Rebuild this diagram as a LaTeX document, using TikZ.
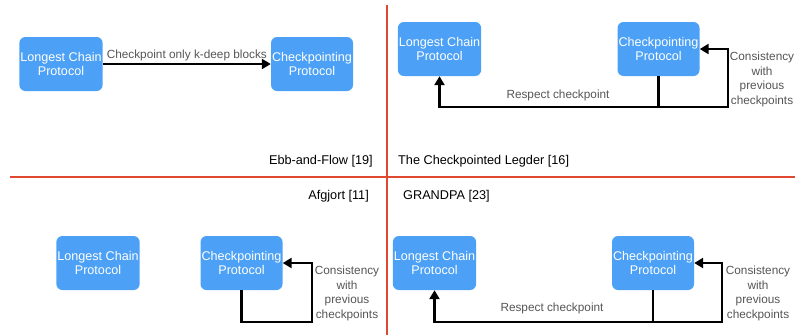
\documentclass[tikz,border=0pt]{standalone}
\usepackage{fontspec}
\setmainfont{Liberation Sans}
\usetikzlibrary{arrows.meta,calc}
\definecolor{boxblue}{RGB}{76,161,246}
\definecolor{redline}{RGB}{224,72,50}
\definecolor{lblgrey}{RGB}{85,85,85}
\tikzset{
  proto/.style={draw=none,fill=boxblue,rounded corners=6pt,minimum width=82pt,minimum height=54pt,
    text=white,align=center,font=\fontsize{12.6}{14.5}\selectfont,inner sep=1pt},
  arr/.style={line width=2.7pt,-{Triangle[length=9pt,width=10pt]},black},
  plain/.style={line width=2.7pt,black},
  lbl/.style={text=lblgrey,align=center,font=\fontsize{11.8}{14.5}\selectfont,inner sep=1pt},
  captext/.style={text=black,font=\fontsize{12.7}{15}\selectfont,inner sep=0pt},
  sepline/.style={draw=redline,line width=2pt}
}
\begin{document}
\begin{tikzpicture}[x=1pt,y=-1pt]
\useasboundingbox (0,0) rectangle (795,335);
% separators
\draw[sepline] (10,177) -- (795,177);
\draw[sepline] (387,5) -- (387,335);
% top-left
\node[proto] (l1) at (61,64) {Longest Chain\\Protocol};
\node[proto] (c1) at (312,64) {Checkpointing\\Protocol};
\draw[arr] (l1.east) -- node[lbl,above=1pt] {Checkpoint only k-deep blocks} (c1.west);
\node[captext,anchor=east] (t1) at (373,161) {Ebb-and-Flow [19]};
% top-right
\node[proto] (l2) at (439.5,49) {Longest Chain\\Protocol};
\node[proto] (c2) at (658.5,49) {Checkpointing\\Protocol};
\coordinate (j2) at (658.5,107);
\draw[plain] (c2.south) -- (j2);
\draw[arr] (j2) -| (l2.south);
\draw[arr] (j2) -- (728,107) |- (c2.east);
\node[lbl] (r2) at (558,95) {Respect checkpoint};
\node[lbl] (k2) at (762,79.5) {Consistency\\with\\previous\\checkpoints};
\node[captext,anchor=west] (t2) at (398,161) {The Checkpointed Legder [16]};
% bottom-left
\node[proto] (l3) at (98,263) {Longest Chain\\Protocol};
\node[proto] (c3) at (241.5,263) {Checkpointing\\Protocol};
\draw[arr] (c3.south) |- (312,322) |- (c3.east);
\node[lbl] (k3) at (347,293.5) {Consistency\\with\\previous\\checkpoints};
\node[captext,anchor=east] (t3) at (369,196) {Afgjort [11]};
% bottom-right
\node[proto] (l4) at (434.5,263) {Longest Chain\\Protocol};
\node[proto] (c4) at (653,263) {Checkpointing\\Protocol};
\coordinate (j4) at (653,322);
\draw[plain] (c4.south) -- (j4);
\draw[arr] (j4) -| (l4.south);
\draw[arr] (j4) -- (722,322) |- (c4.east);
\node[lbl] (r4) at (552,308) {Respect checkpoint};
\node[lbl] (k4) at (758,293.5) {Consistency\\with\\previous\\checkpoints};
\node[captext,anchor=west] (t4) at (403,196) {GRANDPA [23]};
\end{tikzpicture}
\end{document}
